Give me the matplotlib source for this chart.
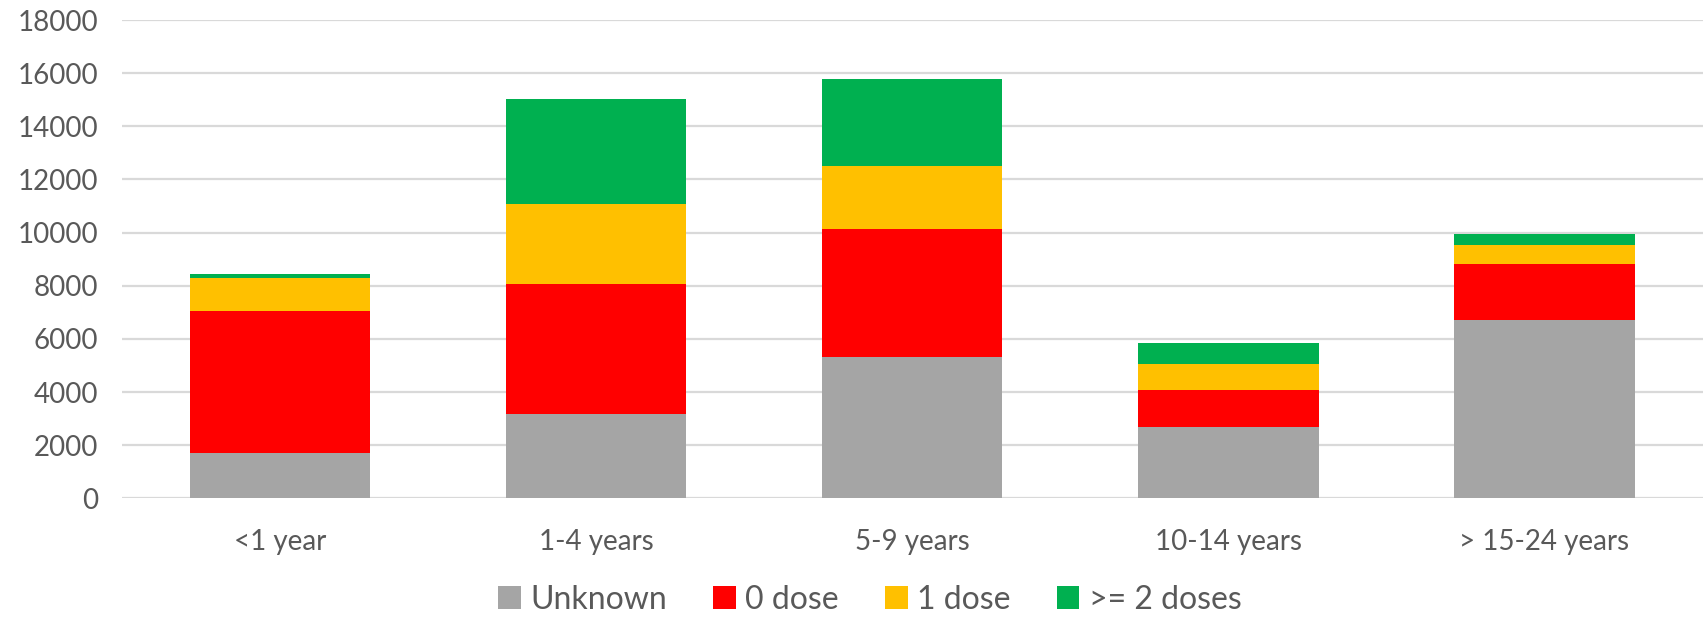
import numpy as np
import matplotlib
matplotlib.use("Agg")
from matplotlib import pyplot as plt

# age groups and cases by vaccination status
groups = ["<1 year", "1-4 years", "5-9 years", "10-14 years", "> 15-24 years"]
unknown = [1700, 3170, 5320, 2680, 6700]
zero_dose = [5350, 4910, 4830, 1400, 2120]
one_dose = [1250, 3010, 2360, 960, 715]
two_plus = [130, 3940, 3270, 790, 415]

series = [("Unknown", unknown, "#A5A5A5"),
          ("0 dose", zero_dose, "#FF0000"),
          ("1 dose", one_dose, "#FFC000"),
          (">= 2 doses", two_plus, "#00B050")]

plt.rcParams['font.family'] = ['Lato', 'DejaVu Sans']

fig = plt.figure(figsize=(17.06, 6.2), dpi=100)
ax = fig.add_axes([0.0715, 0.1963, 0.9265, 0.7714])

x = np.arange(len(groups))
bottom = np.zeros(len(groups))
for name, vals, col in series:
    ax.bar(x, vals, width=0.57, bottom=bottom, color=col, label=name, zorder=3)
    bottom += np.array(vals)

ax.set_xlim(-0.5, len(groups) - 0.5)
ax.set_ylim(0, 18000)
ax.set_yticks(range(0, 18001, 2000))
ax.yaxis.grid(True, color="#D9D9D9", linewidth=1.6, zorder=0)
ax.set_axisbelow(True)
for s in ["top", "right", "left", "bottom"]:
    ax.spines[s].set_visible(False)
ax.tick_params(axis="both", length=0, labelsize=20, labelcolor="#595959")
ax.tick_params(axis="y", pad=17)
ax.tick_params(axis="x", pad=22)
ax.set_xticks(x)
ax.set_xticklabels(groups)

fig.legend(loc="lower center", bbox_to_anchor=(0.51, -0.038), ncol=4, frameon=False,
           fontsize=23, labelcolor="#595959", handlelength=0.7, handleheight=0.7,
           handletextpad=0.3, columnspacing=1.45)

fig.savefig("out.png", dpi=100)
